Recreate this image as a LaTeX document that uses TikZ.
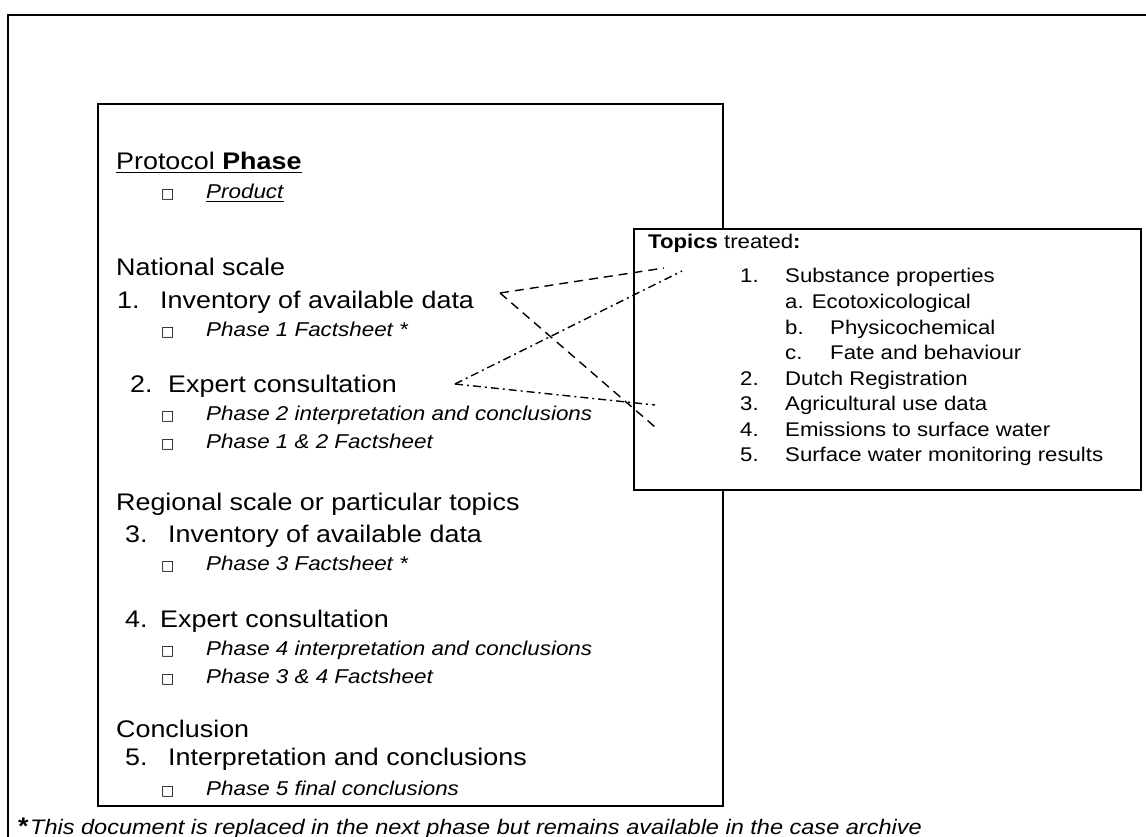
\documentclass[tikz,border=0pt]{standalone}
\usepackage{fontspec}
\setmainfont{Liberation Sans}[FakeStretch=1.12]
\newfontfamily\symfont{DejaVu Sans}
\begin{document}
\begin{tikzpicture}[x=1pt,y=-1pt,
  frame/.style={line width=2pt, black},
  boxline/.style={line width=2pt, black},
  big/.style={anchor=base west, inner sep=0pt, font=\fontsize{24}{28}\selectfont},
  sub/.style={anchor=base west, inner sep=0pt, font=\fontsize{20}{24}\selectfont\itshape},
  topic/.style={anchor=base west, inner sep=0pt, font=\fontsize{19.8}{24}\selectfont},
  bul/.style={anchor=base west, inner sep=0pt, font=\symfont\fontsize{14}{14}\selectfont},
  note/.style={anchor=base west, inner sep=0pt, font=\fontsize{21}{24}\selectfont\itshape},
  dashlink/.style={line width=1.4pt, dash pattern=on 9pt off 6pt},
  dotlink/.style={line width=1.4pt, dash pattern=on 8pt off 4pt on 2pt off 4pt},
]
\useasboundingbox (0,0) rectangle (1146,837);
\clip (0,0) rectangle (1146,837);

% page frame
\draw[frame] (8,837) -- (8,15) -- (1146,15);

% protocol box
\draw[boxline] (98,104) rectangle (723,806);

\node[big] (protocol) at (116,170) {Protocol \textbf{Phase}};
\draw[line width=1.8pt] ([yshift=-2.5pt]protocol.base west) -- ([yshift=-2.5pt]protocol.base east);
\node[bul] (b0) at (161,199) {□};
\node[sub] (product) at (206,199) {Product};
\draw[line width=1.2pt] ([yshift=-2.5pt]product.base west) -- ([yshift=-2.5pt]product.base east);

\node[big] (national) at (116,276) {National scale};
\node[big] (n1) at (117,308) {1.};
\node[big] (inv1) at (160,308) {Inventory of available data};
\node[bul] (b1) at (161,336) {□};
\node[sub] (f1) at (206,336) {Phase 1 Factsheet *};

\node[big] (n2) at (130,392) {2.};
\node[big] (exp1) at (168,392) {Expert consultation};
\node[bul] (b2) at (161,420) {□};
\node[sub] (f2) at (206,420) {Phase 2 interpretation and conclusions};
\node[bul] (b3) at (161,448) {□};
\node[sub] (f3) at (206,448) {Phase 1 \& 2 Factsheet};

\node[big] (regional) at (116,510) {Regional scale or particular topics};
\node[big] (n3) at (125,542) {3.};
\node[big] (inv2) at (168,542) {Inventory of available data};
\node[bul] (b4) at (161,570) {□};
\node[sub] (f4) at (206,570) {Phase 3 Factsheet *};

\node[big] (n4) at (125,627) {4.};
\node[big] (exp2) at (160,627) {Expert consultation};
\node[bul] (b5) at (161,655) {□};
\node[sub] (f5) at (206,655) {Phase 4 interpretation and conclusions};
\node[bul] (b6) at (161,683) {□};
\node[sub] (f6) at (206,683) {Phase 3 \& 4 Factsheet};

\node[big] (conclusion) at (116,737) {Conclusion};
\node[big] (n5) at (125,765) {5.};
\node[big] (interp) at (168,765) {Interpretation and conclusions};
\node[bul] (b7) at (161,795) {□};
\node[sub] (f7) at (206,795) {Phase 5 final conclusions};

% footnote
\node[anchor=base west, inner sep=0pt, font=\fontsize{24}{24}\selectfont\bfseries] (star) at (18,834) {*};
\node[note] (footnote) at (30,834) {This document is replaced in the next phase but remains available in the case archive};

% topics box
\draw[boxline, fill=white] (634,229) rectangle (1141,490);
\node[topic] (topics) at (648,248) {\textbf{Topics} treated\textbf{:}};
\node[topic] (t1n) at (740,283) {1.};
\node[topic] (t1) at (785,283) {Substance properties};
\node[topic] (t1a) at (785,308.5) {a. Ecotoxicological};
\node[topic] (t1bn) at (785,334) {b.};
\node[topic] (t1b) at (830,334) {Physicochemical};
\node[topic] (t1cn) at (785,359.5) {c.};
\node[topic] (t1c) at (830,359.5) {Fate and behaviour};
\node[topic] (t2n) at (740,385) {2.};
\node[topic] (t2) at (785,385) {Dutch Registration};
\node[topic] (t3n) at (740,410.5) {3.};
\node[topic] (t3) at (785,410.5) {Agricultural use data};
\node[topic] (t4n) at (740,436) {4.};
\node[topic] (t4) at (785,436) {Emissions to surface water};
\node[topic] (t5n) at (740,461.5) {5.};
\node[topic] (t5) at (785,461.5) {Surface water monitoring results};

% links between the phases and the topics
\coordinate (invEnd) at (500,293);
\coordinate (expEnd) at (455,384);
\coordinate (subA) at (664,268);
\coordinate (subB) at (682,271);
\coordinate (agri) at (655,405);
\coordinate (emis) at (655,427);
\draw[dashlink] (invEnd) -- (subA);
\draw[dashlink] (invEnd) -- (emis);
\draw[dotlink] (expEnd) -- (subB);
\draw[dotlink] (expEnd) -- (agri);
\end{tikzpicture}
\end{document}
